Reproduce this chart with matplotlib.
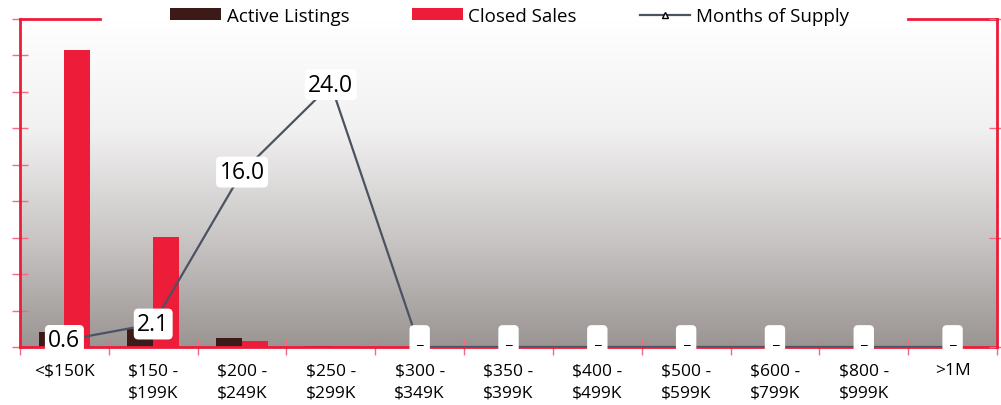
import numpy as np
import matplotlib.pyplot as plt
from matplotlib.colors import LinearSegmentedColormap

plt.rcParams['font.family'] = ['Open Sans', 'DejaVu Sans']

# ---- Data ----
categories = ['<$150K', '$150 -\n$199K', '$200 -\n$249K', '$250 -\n$299K', '$300 -\n$349K',
              '$350 -\n$399K', '$400 -\n$499K', '$500 -\n$599K', '$600 -\n$799K',
              '$800 -\n$999K', '>1M']
active_listings = [4.1, 4.9, 2.4, 0.4, 0, 0, 0, 0, 0, 0, 0]
closed_sales = [81.4, 30.1, 1.7, 0.3, 0, 0, 0, 0, 0, 0, 0]
months_supply = [0.6, 2.1, 16.0, 24.0, 0, 0, 0, 0, 0, 0, 0]

red = '#ED1C39'
tick_red = '#F36B80'
dark = '#3B1A17'
line_col = '#4B5261'

# ---- Plotting ----
fig = plt.figure(figsize=(10.01, 4.06), dpi=100)
ax = fig.add_axes([20 / 1001, 1 - 348 / 406, 977 / 1001, 328 / 406])
ax2 = ax.twinx()

x = np.arange(len(categories))
w = 0.29

# background gradient
cmap = LinearSegmentedColormap.from_list('bg', ['#FFFFFF', '#F2F1F1', '#C9C6C5', '#9A9593'])
grad = np.linspace(0, 1, 256).reshape(-1, 1)
ax.imshow(grad, cmap=cmap, aspect='auto', extent=(-0.5, len(x) - 0.5, 0, 90),
          origin='upper', zorder=0)

ax.bar(x - w / 2, active_listings, width=w, color=dark, zorder=2, label='Active Listings')
ax.bar(x + w / 2, closed_sales, width=w, color=red, zorder=2, label='Closed Sales')

ax.set_xlim(-0.5, len(x) - 0.5)
ax.set_ylim(0, 90)
ax.set_yticks(np.arange(0, 91, 10))
ax.set_yticklabels([])
ax.set_xticks(x)
ax.set_xticklabels(categories, fontsize=12.5, linespacing=1.55)
ax.set_xticks(np.arange(-0.5, len(x), 1), minor=True)
ax.tick_params(axis='x', which='major', length=0, pad=11)
ax.tick_params(axis='x', which='minor', direction='inout', length=12, color=tick_red, width=1)
ax.tick_params(axis='y', direction='inout', length=12, color=tick_red, width=1)

for s in ['left', 'bottom']:
    ax.spines[s].set_color(red)
    ax.spines[s].set_linewidth(2)
for s in ['top', 'right']:
    ax.spines[s].set_visible(False)
    ax2.spines[s].set_visible(False)
ax2.spines['right'].set_visible(True)
ax2.spines['right'].set_color(red)
ax2.spines['right'].set_linewidth(2)
ax2.spines['left'].set_visible(False)
ax2.spines['bottom'].set_visible(False)

# top border broken by the legend
ax.axhline(90, xmin=0, xmax=(100 - 20) / 977, color=red, lw=2, clip_on=False, zorder=5)
ax.axhline(90, xmin=(908 - 20) / 977, xmax=1, color=red, lw=2, clip_on=False, zorder=5)

# --- months of supply line ---
ax2.plot(x, months_supply, color=line_col, lw=1.6, marker='^', markersize=5,
         markerfacecolor='white', markeredgecolor='black', label='Months of Supply', zorder=3)
ax2.set_ylim(0, 30)
ax2.set_yticks([0, 10, 20, 30])
ax2.set_yticklabels([])
ax2.tick_params(axis='y', direction='inout', length=12, color=tick_red, width=1)

for xi, v in zip(x, months_supply):
    if v > 0:
        ax2.text(xi, v, f'{v:.1f}', ha='center', va='center', fontsize=16.5, zorder=6,
                 bbox=dict(boxstyle='round,pad=0.15,rounding_size=0.2', fc='white', ec='none'))
    else:
        ax2.text(xi, v, '_', ha='center', va='bottom', fontsize=11, zorder=6,
                 bbox=dict(boxstyle='round,pad=0.45,rounding_size=0.3', fc='white', ec='none'))

# --- legend ---
h1, l1 = ax.get_legend_handles_labels()
h2, l2 = ax2.get_legend_handles_labels()
fig.legend(h1 + h2, l1 + l2, loc='center', bbox_to_anchor=(0.509, 1 - 17 / 406), ncol=3,
           frameon=False, fontsize=13.5, handlelength=2.7, handleheight=0.6,
           handletextpad=0.3, columnspacing=3.35)

plt.savefig('out.png', dpi=100)
